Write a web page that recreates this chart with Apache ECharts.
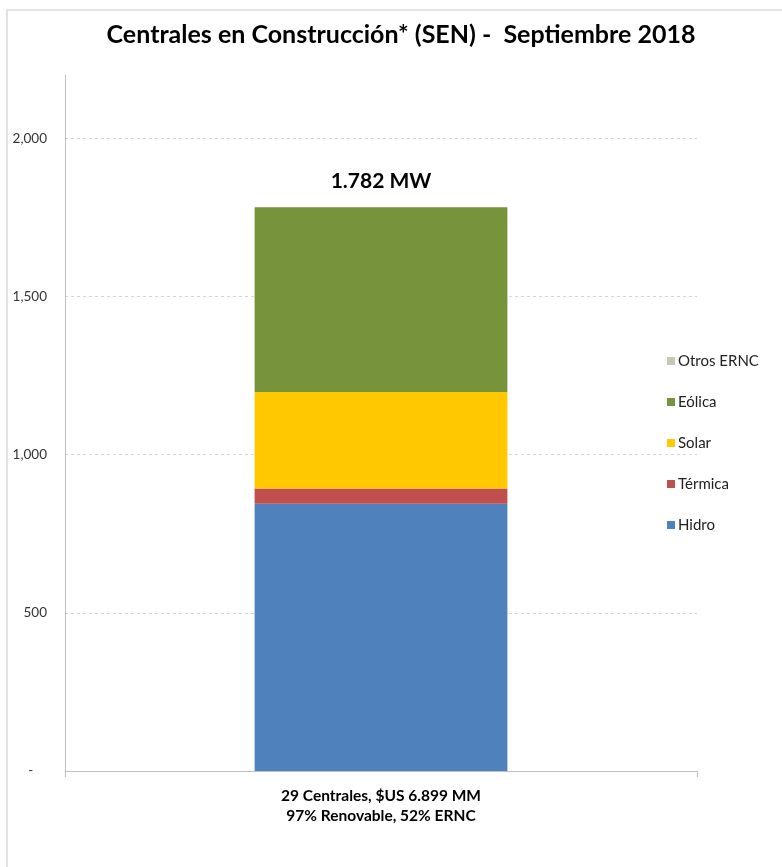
<!DOCTYPE html>
<html>
<head>
<meta charset="utf-8">
<script src="https://cdn.jsdelivr.net/npm/echarts@6/dist/echarts.min.js"></script>
<style>
html,body{margin:0;padding:0;background:#fff;}
#chart{width:782px;height:867px;}
</style>
</head>
<body>
<div id="chart"></div>
<script>
var categories = ['29 Centrales, $US 6.899 MM\n97% Renovable, 52% ERNC'];
var seriesNames = ['Hidro', 'Térmica', 'Solar', 'Eólica', 'Otros ERNC'];
var hidro = [845];
var termica = [48];
var solar = [305];
var eolica = [584];
var otros = [0];
var totalLabel = ['1.782 MW'];
var yTicks = [0, 500, 1000, 1500, 2000];
var colors = ['#4F81BD', '#C0504D', '#FFC800', '#77933C', '#C4C8B4'];
var FONT = 'Lato, "Open Sans", sans-serif';

var chart = echarts.init(document.getElementById('chart'));
var dataSets = [hidro, termica, solar, eolica, otros];
var series = seriesNames.map(function (n, i) {
  var s = {
    name: n, type: 'bar', stack: 'total', data: dataSets[i],
    barWidth: '40%', itemStyle: { color: colors[i] }
  };
  if (n === 'Eólica') {
    s.label = {
      show: true, position: 'top', distance: 16,
      formatter: function () { return totalLabel[0]; },
      fontFamily: FONT, fontWeight: 'bold', fontSize: 21, color: '#000'
    };
  }
  return s;
});

chart.setOption({
  animation: false,
  backgroundColor: '#fff',
  title: {
    text: 'Centrales en Construcción* (SEN) -  Septiembre 2018',
    left: 396, textAlign: 'center', top: 17,
    textStyle: { fontFamily: FONT, fontWeight: 'bold', fontSize: 25, color: '#000' }
  },
  legend: {
    orient: 'vertical', left: 662, top: 347,
    data: seriesNames.slice().reverse(),
    icon: 'rect', itemWidth: 8, itemHeight: 8, itemGap: 23,
    textStyle: { fontFamily: FONT, fontSize: 15, color: '#222', lineHeight: 18, padding: [0, 0, 0, -2] }
  },
  grid: { left: 65, right: 85, top: 75, bottom: 96 },
  xAxis: {
    type: 'category', data: categories,
    axisLine: { lineStyle: { color: '#BFBFBF', width: 1 } },
    axisTick: { show: true, length: 6, alignWithLabel: false, lineStyle: { color: '#BFBFBF' } },
    axisLabel: { fontFamily: FONT, fontWeight: 'bold', fontSize: 15.5, color: '#000', lineHeight: 20, margin: 15 }
  },
  yAxis: {
    type: 'value', min: 0, max: 2200, interval: 500,
    axisLine: { show: true, lineStyle: { color: '#BFBFBF', width: 1 } },
    axisTick: { show: false },
    axisLabel: {
      fontFamily: FONT, fontSize: 13.5, color: '#333', margin: 18, showMaxLabel: false,
      formatter: function (v) {
        if (yTicks.indexOf(v) < 0) return '';
        return v === 0 ? '-    ' : v.toLocaleString('en-US');
      }
    },
    splitLine: { show: true, showMaxLine: false, lineStyle: { color: '#D6D6D6', type: [3, 3], width: 1 } }
  },
  graphic: [
    { type: 'line', shape: { x1: 7, y1: 10, x2: 782, y2: 10 }, style: { stroke: '#D9D9D9', lineWidth: 1.5 } },
    { type: 'line', shape: { x1: 7, y1: 10, x2: 7, y2: 867 }, style: { stroke: '#D9D9D9', lineWidth: 1.5 } }
  ],
  series: series
});
</script>
</body>
</html>
